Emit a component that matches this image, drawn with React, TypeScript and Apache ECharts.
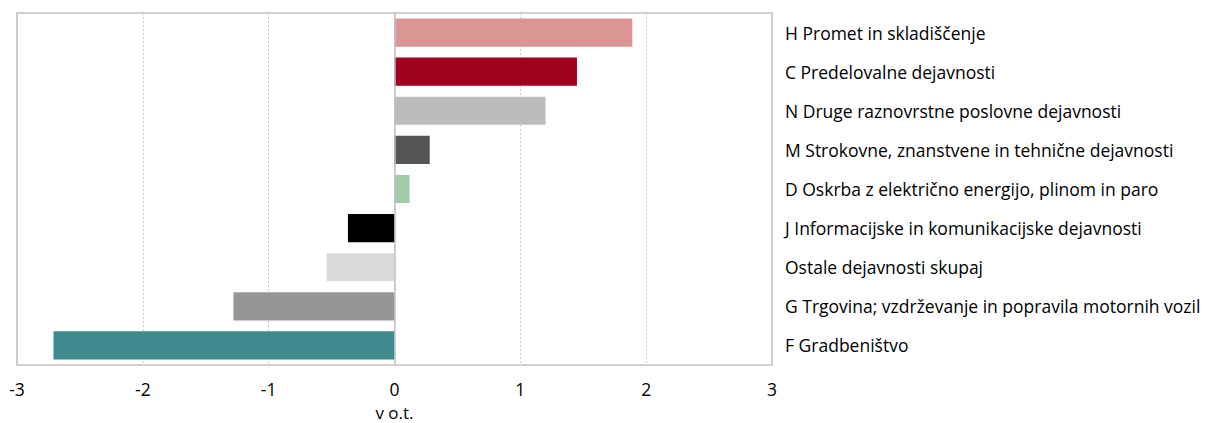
import React, { useEffect, useRef } from "react";
import * as echarts from "echarts";

const categories = [
  "H Promet in skladiščenje",
  "C Predelovalne dejavnosti",
  "N Druge raznovrstne poslovne dejavnosti",
  "M Strokovne, znanstvene in tehnične dejavnosti",
  "D Oskrba z električno energijo, plinom in paro",
  "J Informacijske in komunikacijske dejavnosti",
  "Ostale dejavnosti skupaj",
  "G Trgovina; vzdrževanje in popravila motornih vozil",
  "F Gradbeništvo",
];
const values = [1.89, 1.45, 1.2, 0.28, 0.12, -0.37, -0.54, -1.28, -2.71];
const colors = [
  "#DA9694",
  "#9E001D",
  "#BBBBBB",
  "#555555",
  "#A0CCAA",
  "#000000",
  "#DADADA",
  "#969696",
  "#3E8A8F",
];
const xTicks = { min: -3, max: 3, interval: 1 };
const axisName = "v o.t.";

const FONT = "'Open Sans', 'Noto Sans', sans-serif";

export default function App() {
  const ref = useRef<HTMLDivElement>(null);
  useEffect(() => {
    if (!ref.current) return;
    const chart = echarts.init(ref.current, undefined, { renderer: "svg" });
    chart.setOption({
      animation: false,
      grid: {
        left: 17,
        right: 433,
        top: 13,
        bottom: 58,
        show: true,
        borderColor: "#C0C0C0",
        borderWidth: 1.5,
        containLabel: false,
        outerBoundsMode: "none",
      },
      xAxis: {
        type: "value",
        min: xTicks.min,
        max: xTicks.max,
        interval: xTicks.interval,
        name: axisName,
        nameLocation: "middle",
        nameGap: 39,
        nameTextStyle: { color: "#000", fontSize: 17, fontFamily: FONT, lineHeight: 17 },
        axisLine: { show: false },
        axisTick: { show: false },
        axisLabel: { color: "#000", fontSize: 17.5, fontFamily: FONT, margin: 15 },
        splitLine: {
          show: true,
          lineStyle: { color: "#C8C8C8", type: [2, 2], width: 1 },
        },
      },
      yAxis: {
        type: "category",
        data: categories,
        inverse: true,
        position: "right",
        axisLine: { show: false },
        axisTick: { show: false },
        axisLabel: {
          color: "#000",
          fontSize: 17.5,
          fontFamily: FONT,
          margin: 13,
          align: "left",
        },
        splitLine: { show: false },
      },
      series: [
        {
          type: "bar",
          data: values.map((v, i) => ({ value: v, itemStyle: { color: colors[i] } })),
          barCategoryGap: "28%",
          markLine: {
            silent: true,
            symbol: "none",
            label: { show: false },
            lineStyle: { color: "#C0C0C0", type: "solid", width: 1.5 },
            data: [{ xAxis: 0 }],
          },
        },
      ],
    });
    return () => chart.dispose();
  }, []);
  return (
    <div
      ref={ref}
      style={{ position: "absolute", left: 0, top: 0, width: 1205, height: 423 }}
    />
  );
}
